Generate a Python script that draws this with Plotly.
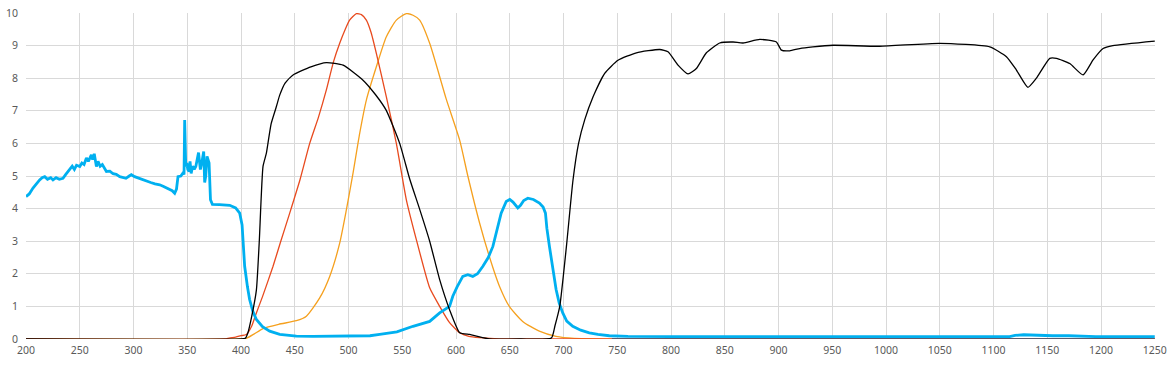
import plotly.graph_objects as go

# ---- data (wavelength nm -> value) ----
cyan_x = [200, 203, 206.5, 210, 212.7, 215, 217.4, 220, 223, 225.1, 228, 231, 234.4, 237, 240.7, 243, 245, 247, 250,
          252, 254, 256.2, 258, 260.8, 262, 263.5, 265.5, 267, 269, 271, 274.8, 278, 281, 284, 287.2, 290, 293, 296,
          298, 301, 305, 308, 312, 316, 320, 324.4, 328, 332, 336, 338.3, 340, 341.4, 344, 346, 347, 347.6, 348.6,
          349.6, 350.5, 351.7, 352.6, 353.6, 355, 356.5, 358, 360.5, 362.2, 363.5, 365.3, 366.2, 367.2, 368.4, 370.3,
          371.6, 373.4, 380, 389.5, 395, 398.8, 401, 403.4, 406, 408, 411, 414.3, 420, 426.7, 436, 451.5, 467, 500,
          520, 529, 545, 560, 575.5, 584.8, 594, 597, 601, 606.3, 611, 615.6, 620, 625, 630, 634.3, 638, 642, 646.7,
          650, 653, 657.5, 660, 663, 666.8, 672, 677.6, 681, 683.2, 684.5, 686.9, 690, 693.1, 696, 699.3, 703, 708.6,
          716, 724, 732, 742.6, 760, 800, 1115, 1120, 1128, 1140, 1150, 1155, 1170, 1190, 1195, 1250]
cyan_y = [4.37, 4.45, 4.63, 4.78, 4.88, 4.95, 4.98, 4.9, 4.95, 4.88, 4.95, 4.9, 4.93, 5.05, 5.19, 5.3, 5.2, 5.33, 5.29,
          5.4, 5.35, 5.55, 5.45, 5.65, 5.5, 5.68, 5.29, 5.45, 5.3, 5.35, 5.14, 5.15, 5.07, 5.05, 4.98, 4.95, 4.93, 5.0,
          5.04, 4.98, 4.93, 4.88, 4.83, 4.8, 4.76, 4.73, 4.68, 4.62, 4.55, 4.47, 4.6, 4.98, 5.0, 5.09, 5.05, 6.72, 5.29,
          5.4, 5.2, 5.14, 5.45, 5.08, 5.3, 5.2, 5.3, 5.72, 5.2, 5.4, 5.75, 4.8, 5.0, 5.6, 5.4,
          4.27, 4.13, 4.12, 4.1, 4.02, 3.86, 3.5, 2.23, 1.6, 1.21, 0.85, 0.6, 0.38, 0.24, 0.14, 0.09, 0.08, 0.08,
          0.1, 0.14, 0.22, 0.39, 0.54, 0.8, 1.0, 1.31, 1.6, 1.92, 1.97, 1.92, 2.0, 2.23, 2.5, 2.84, 3.3, 3.86, 4.22,
          4.28, 4.2, 4.02, 4.1, 4.25, 4.32, 4.28, 4.17, 4.05, 3.86, 3.4, 2.84, 2.1, 1.52, 1.1, 0.8, 0.55, 0.39,
          0.27, 0.19, 0.14, 0.1, 0.08, 0.07, 0.07, 0.11, 0.13, 0.12, 0.09, 0.1, 0.1, 0.09, 0.07, 0.07]

black_x = [200, 400, 404, 406.5, 410, 414.3, 417, 420.5, 423.6, 428, 432.9, 436, 441, 448.4, 465, 479.4, 495, 513.5,
           525, 535, 547.6, 557, 566, 575.5, 584.8, 594, 603.5, 612.8, 620, 631, 660, 688.7, 692, 696.5, 702.7, 708.8,
           714, 719.7, 727.5, 738.3, 750.7, 767.8, 789.5, 797.2, 806.5, 815.8, 823.6, 832.9, 845.3, 857.7, 867, 882.5,
           898, 902.7, 910.4, 919.7, 932, 950.7, 994, 1050, 1096.5, 1112, 1121.3, 1132, 1139.9, 1152.3, 1158.5,
           1170.9, 1183.3, 1192.6, 1201.9, 1211, 1250]
black_y = [0, 0, 0.02, 0.2, 0.7, 1.5, 3.0, 5.3, 5.7, 6.6, 7.13, 7.48, 7.85, 8.1, 8.35, 8.48, 8.4, 7.94,
           7.5, 7.02, 6.0, 4.9, 4.0, 3.0, 1.82, 0.9, 0.19, 0.14, 0.08, 0.0, 0, 0.03, 0.4, 1.0, 2.84, 4.87,
           6.0, 6.72, 7.43, 8.15, 8.55, 8.78, 8.88, 8.81, 8.4, 8.13, 8.3, 8.78, 9.08, 9.11, 9.08, 9.19,
           9.11, 8.86, 8.84, 8.91, 8.96, 9.01, 8.98, 9.07, 8.96, 8.66, 8.25, 7.72, 8.0, 8.61, 8.61,
           8.45, 8.1, 8.56, 8.91, 9.0, 9.14]

red_x = [200, 385, 389, 395, 400, 405, 410, 414.3, 420, 429.8, 437, 445.3, 455, 463.9, 472, 479.4, 486, 491.8, 497,
         501, 507.3, 512, 516.6, 521, 525.9, 535.2, 544.5, 553.8, 563.1, 575.5, 584.8, 594, 603.4, 612, 622, 640, 1250]
red_y = [0, 0, 0.03, 0.06, 0.1, 0.14, 0.4, 0.8, 1.3, 2.23, 3.0, 3.86, 4.9, 6.0, 6.8, 7.64, 8.5, 9.07, 9.5,
         9.78, 9.98, 9.95, 9.78, 9.4, 8.76, 7.43, 6.0, 4.27, 3.05, 1.57, 1.0, 0.5, 0.19, 0.08, 0.04, 0.0, 0]

orange_x = [200, 400, 405, 412, 420.5, 435, 451.5, 460.8, 473.2, 482.5, 491.8, 498, 504.2, 510.4, 516.6, 525.9, 535.2,
            544.5, 553.8, 560, 566.2, 575.5, 591, 603.4, 611, 622, 631, 640.4, 649.6, 662, 677.5, 693, 710, 1250]
orange_y = [0, 0, 0.02, 0.15, 0.32, 0.45, 0.56, 0.7, 1.26, 1.92, 2.94, 3.96, 5.09, 6.31, 7.33, 8.35, 9.27,
            9.78, 9.98, 9.93, 9.78, 9.07, 7.35, 6.1, 5.0, 3.55, 2.53, 1.62, 1.0, 0.54, 0.24, 0.08, 0.02, 0]

# dark baseline seen under the flat cyan tail
base_x = [745, 1250]
base_y = [0, 0]

x_ticks = list(range(200, 1251, 50))
y_ticks = list(range(0, 11, 1))

fig = go.Figure()
fig.add_trace(go.Scatter(x=orange_x, y=orange_y, mode="lines",
                         line=dict(color="#F5A01E", width=1.3, shape="spline", smoothing=0.6)))
fig.add_trace(go.Scatter(x=red_x, y=red_y, mode="lines",
                         line=dict(color="#E84A1E", width=1.3, shape="spline", smoothing=0.5)))
fig.add_trace(go.Scatter(x=base_x, y=base_y, mode="lines", line=dict(color="#5E5A6C", width=2.2)))
fig.add_trace(go.Scatter(x=cyan_x, y=cyan_y, mode="lines", line=dict(color="#00B0F0", width=2.8)))
fig.add_trace(go.Scatter(x=black_x, y=black_y, mode="lines",
                         line=dict(color="#000000", width=1.3, shape="spline", smoothing=0.5)))

fig.update_layout(
    width=1167, height=366, autosize=False,
    margin=dict(l=26, r=12, t=13, b=27, autoexpand=False),
    paper_bgcolor="white", plot_bgcolor="white",
    showlegend=False,
    font=dict(family="Noto Sans", size=10.5, color="#595959"),
)
fig.update_xaxes(range=[200, 1250.2], tickvals=x_ticks, ticktext=[str(v) for v in x_ticks],
                 showgrid=True, gridcolor="#D9D9D9", gridwidth=1, zeroline=False, automargin=False,
                 showline=False, ticks="", ticklabelstandoff=3)
fig.update_yaxes(range=[0, 10], tickvals=y_ticks, ticktext=[str(v) for v in y_ticks],
                 showgrid=True, gridcolor="#D9D9D9", gridwidth=1, zeroline=False, automargin=False,
                 showline=False, ticks="", ticklabelstandoff=7)

fig.write_html("out.html", config={"displayModeBar": False},
               post_script="document.body.style.margin='0px';")
